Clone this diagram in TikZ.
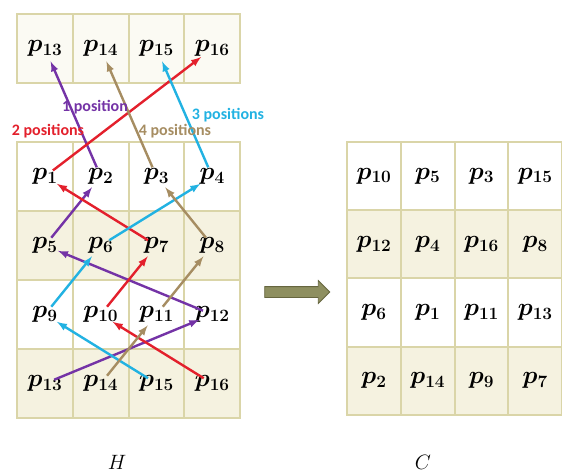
\documentclass[tikz,border=0pt]{standalone}
\usepackage{fontspec}
\newfontfamily\labelfont{Carlito}
\usepackage{xcolor}
\usepackage{tikz}
\usetikzlibrary{calc, shapes.arrows, positioning}

\definecolor{gridline}{HTML}{DAD5A8}
\definecolor{cream}{HTML}{F5F2E0}
\definecolor{oneclr}{HTML}{7433A6}
\definecolor{twoclr}{HTML}{E3202C}
\definecolor{threeclr}{HTML}{22B2E2}
\definecolor{fourclr}{HTML}{A68D62}
\definecolor{arrowfill}{HTML}{8E8F60}
\definecolor{arrowedge}{HTML}{66663F}

\tikzset{
  cell/.style={draw=gridline, line width=1.8pt, minimum width=55.75pt,
    minimum height=69pt, inner sep=0pt, font=\fontsize{27}{30}\selectfont\boldmath},
  rcell/.style={cell, minimum width=53.75pt, minimum height=68.25pt},
  move/.style={->, line width=2.4pt, shorten <=10pt, shorten >=14pt},
  moveone/.style={move, draw=oneclr},
  movetwo/.style={move, draw=twoclr},
  movethree/.style={move, draw=threeclr},
  movefour/.style={move, draw=fourclr},
  tag/.style={font=\labelfont\bfseries\fontsize{16}{18}\selectfont, inner sep=0pt}
}

\begin{document}
\begin{tikzpicture}[>=latex, x=1pt, y=-1pt]
    \useasboundingbox (0,0) rectangle (562,476);

    % top row of H
    \foreach \k [count=\i from 0] in {13,...,16}
        \node[cell, fill=white!60!cream] (t\k) at (45+55.75*\i, 48.5) {$p_{\k}$};

    % grid H
    \foreach \r/\fillc in {0/white,1/cream,2/white,3/cream} {
        \foreach \c in {0,...,3} {
            \pgfmathtruncatemacro{\n}{4*\r+\c+1}
            \node[cell, fill=\fillc] (h\n) at (45+55.75*\c, 176.5+69*\r) {$p_{\n}$};
        }
    }

    % grid C
    \foreach \n [count=\i from 0] in {10,5,3,15,12,4,16,8,6,1,11,13,2,14,9,7} {
        \pgfmathtruncatemacro{\row}{floor(\i/4)}
        \pgfmathtruncatemacro{\col}{\i-4*\row}
        \ifodd\row \def\fillc{cream}\else \def\fillc{white}\fi
        \node[rcell, fill=\fillc] (c\i) at (374+53.75*\col, 176+68.25*\row) {$p_{\n}$};
    }

    % shifts
    \draw[moveone] (h2.center) -- (t13.center);
    \draw[moveone] (h5.center) -- (h2.center);
    \draw[moveone] (h12.center) -- (h5.center);
    \draw[moveone] (h13.center) -- (h12.center);

    \draw[movetwo] (h1.center) -- (t16.center);
    \draw[movetwo] (h7.center) -- (h1.center);
    \draw[movetwo] (h10.center) -- (h7.center);
    \draw[movetwo] (h16.center) -- (h10.center);

    \draw[movethree] (h4.center) -- (t15.center);
    \draw[movethree] (h6.center) -- (h4.center);
    \draw[movethree] (h9.center) -- (h6.center);
    \draw[movethree] (h15.center) -- (h9.center);

    \draw[movefour] (h3.center) -- (t14.center);
    \draw[movefour] (h8.center) -- (h3.center);
    \draw[movefour] (h11.center) -- (h8.center);
    \draw[movefour] (h14.center) -- (h11.center);

    % labels
    \node[tag, text=oneclr] (tagone) at (95,107) {1 position};
    \node[tag, text=twoclr] (tagtwo) at (48,131) {2 positions};
    \node[tag, text=fourclr] (tagfour) at (175,131) {4 positions};
    \node[tag, text=threeclr] (tagthree) at (228,115) {3 positions};

    % big arrow
    \node[single arrow, draw=arrowedge, fill=arrowfill, line width=0.8pt,
        minimum height=65pt, single arrow head extend=6pt, inner sep=5pt]
        (turn) at (294.5,292) {};

    \node[font=\fontsize{20}{22}\selectfont] (hname) at (117,462) {$H$};
    \node[font=\fontsize{20}{22}\selectfont] (cname) at (423,462) {$C$};
\end{tikzpicture}
\end{document}
